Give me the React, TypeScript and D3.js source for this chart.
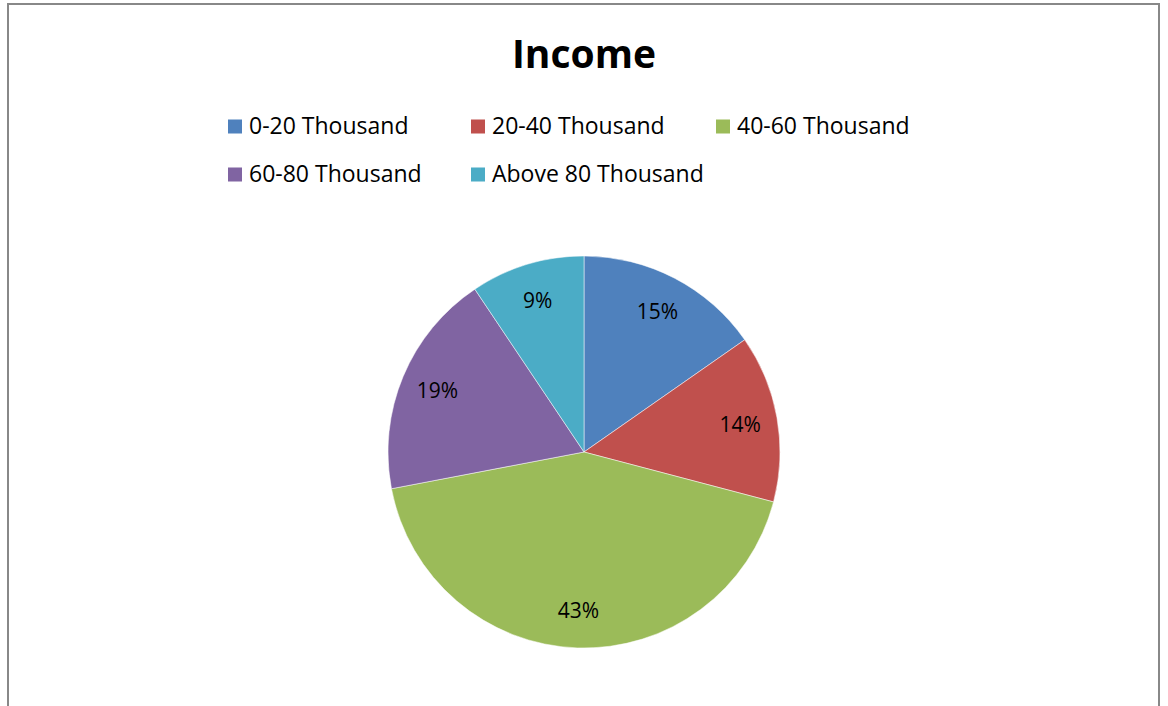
import React from "react";
import * as d3 from "d3";

const categories = ["0-20 Thousand", "20-40 Thousand", "40-60 Thousand", "60-80 Thousand", "Above 80 Thousand"];
const values = [15.3, 13.8, 42.9, 18.6, 9.4];
const labels = ["15%", "14%", "43%", "19%", "9%"];
const colors = ["#4F81BD", "#C0504D", "#9BBB59", "#8064A2", "#4BACC6"];

const W = 1168, H = 706;
const cx = 584, cy = 452, R = 196;
const font = "'Open Sans', sans-serif";

export default function App() {
  const pie = d3.pie<number>().value((d) => d).sort(null);
  const arcs = pie(values);
  const arc = d3.arc<d3.PieArcDatum<number>>().innerRadius(0).outerRadius(R);
  const labelArc = d3.arc<d3.PieArcDatum<number>>().innerRadius(R * 0.81).outerRadius(R * 0.81);

  const legendCols = [228, 471, 716];
  const legendRows = [134, 182];
  const legendPos = categories.map((_, i) => ({
    x: legendCols[i % 3],
    y: legendRows[Math.floor(i / 3)],
  }));

  return (
    <svg width={W} height={H} style={{ position: "absolute", left: 0, top: 0 }}>
      <rect x={0} y={0} width={W} height={H} fill="#fff" />
      <rect x={8} y={4} width={1151} height={720} fill="#fff" stroke="#888" strokeWidth={2} />
      <text x={584} y={68} textAnchor="middle" fontFamily={font} fontWeight="bold" fontSize={39} fill="#000">
        Income
      </text>
      {categories.map((c, i) => (
        <g key={c}>
          <rect x={legendPos[i].x} y={legendPos[i].y - 14.5} width={14} height={14} fill={colors[i]} />
          <text x={legendPos[i].x + 21} y={legendPos[i].y} fontFamily={font} fontSize={23} fill="#000">
            {c}
          </text>
        </g>
      ))}
      <g transform={`translate(${cx},${cy})`}>
        {arcs.map((a, i) => (
          <path key={i} d={arc(a) || ""} fill={colors[i]} stroke="#fff" strokeWidth={0.5} />
        ))}
        {arcs.map((a, i) => {
          const [lx, ly] = labelArc.centroid(a);
          return (
            <text key={"l" + i} x={lx} y={ly + 7.5} textAnchor="middle" fontFamily={font} fontSize={21} fill="#000">
              {labels[i]}
            </text>
          );
        })}
      </g>
    </svg>
  );
}
